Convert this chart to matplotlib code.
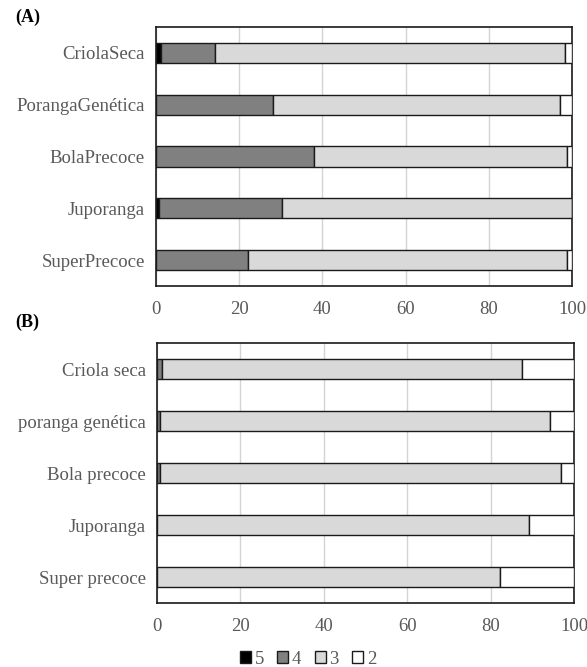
import numpy as np
import matplotlib.pyplot as plt
from matplotlib.patches import Patch

plt.rcParams['font.family'] = ['Liberation Serif', 'DejaVu Serif']

# Panel A
cats_a = ['CriolaSeca', 'PorangaGenética', 'BolaPrecoce', 'Juporanga', 'SuperPrecoce']
a5 = [1.3, 0.0, 0.0, 0.7, 0.0]
a4 = [13.0, 28.2, 38.1, 29.7, 22.1]
a3 = [84.0, 68.9, 60.8, 69.6, 76.8]
a2 = [1.7, 2.9, 1.1, 0.0, 1.1]

# Panel B
cats_b = ['Criola seca', 'poranga genética', 'Bola precoce', 'Juporanga', 'Super precoce']
b5 = [0.0, 0.0, 0.0, 0.0, 0.0]
b4 = [1.1, 0.6, 0.6, 0.0, 0.0]
b3 = [86.5, 93.6, 96.4, 89.3, 82.2]
b2 = [12.4, 5.8, 3.0, 10.7, 17.8]

niveis = ['5', '4', '3', '2']
cores = ['#000000', '#808080', '#d9d9d9', '#ffffff']
txt = '#595959'

fig = plt.figure(figsize=(5.87, 6.67), dpi=100)
ax_a = fig.add_axes([156/587, 1-286/667, 416/587, 259/667])
ax_b = fig.add_axes([157/587, 1-603/667, 417/587, 260/667])

def painel(ax, cats, series):
    y = np.arange(len(cats))
    esq = np.zeros(len(cats))
    for vals, c in zip(series, cores):
        vals = np.array(vals)
        ax.barh(y, vals, left=esq, height=0.39, color=c, edgecolor='#1a1a1a',
                linewidth=1.0, zorder=3)
        esq += vals
    ax.set_yticks(y)
    ax.set_yticklabels(cats)
    ax.set_ylim(len(cats) - 0.5, -0.5)
    ax.set_xlim(0, 100)
    ax.set_xticks([0, 20, 40, 60, 80, 100])
    ax.grid(axis='x', color='#d4d4d4', linewidth=1.0, zorder=0)
    ax.tick_params(length=0, labelsize=13.5, colors=txt, pad=8)
    for s in ax.spines.values():
        s.set_color('#1a1a1a')
        s.set_linewidth(1.2)

painel(ax_a, cats_a, [a5, a4, a3, a2])
painel(ax_b, cats_b, [b5, b4, b3, b2])
ax_a.tick_params(axis='x', pad=11)
ax_b.tick_params(axis='x', pad=11)

fig.text(15/587, 1-17/667, '(A)', fontsize=13, fontweight='bold', va='center')
fig.text(15/587, 1-322/667, '(B)', fontsize=13, fontweight='bold', va='center')

handles = [Patch(facecolor=c, edgecolor='#1a1a1a', linewidth=1.0) for c in cores]
fig.legend(handles, niveis, loc='center', bbox_to_anchor=(308/587, 1-659/667),
           ncol=4, frameon=False, fontsize=13.5, handlelength=0.6, handleheight=0.6,
           handletextpad=0.2, columnspacing=0.7, labelcolor=txt)

fig.savefig('out.png', dpi=100)
